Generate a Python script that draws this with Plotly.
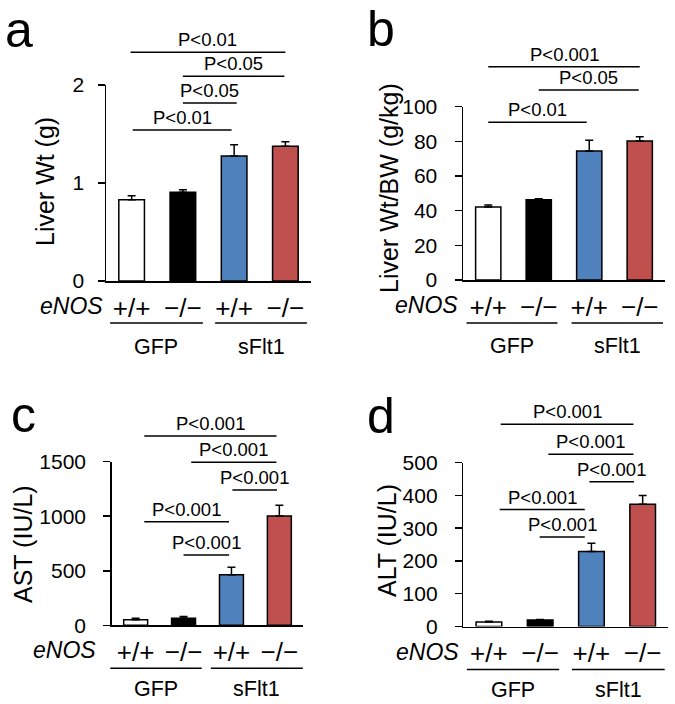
import plotly.graph_objects as go

W, H = 675, 704
FONT = "Liberation Sans, Arial, Helvetica, sans-serif"

# ---------------- data ----------------
genotype_labels = ["+/+", "−/−", "+/+", "−/−"]
group_labels = ["GFP", "sFlt1"]
bar_colors = ["#FFFFFF", "#000000", "#4F81BD", "#C0504D"]

liver_wt = [0.83, 0.905, 1.275, 1.375]
liver_wt_err = [0.04, 0.025, 0.115, 0.045]

liver_wt_bw = [42.1, 46.3, 74.4, 80.2]
liver_wt_bw_err = [1.2, 0.6, 6.2, 2.5]

ast = [52, 64, 464, 1002]
ast_err = [12, 16, 68, 98]

alt = [14, 20, 229, 373]
alt_err = [2, 1.5, 25, 27]

# comparisons: (from bar, to bar, height in data units, label)
sig_a = [(-0.02, 3.0, 2.333, "P<0.01"), (1.0, 2.98, 2.089, "P<0.05"),
         (1.0, 2.05, 1.816, "P<0.05"), (0.02, 1.95, 1.541, "P<0.01")]
sig_b = [(0.0, 3.0, 123.1, "P<0.001"), (1.0, 2.98, 109.6, "P<0.05"),
         (0.0, 1.95, 91.0, "P<0.01")]
sig_c = [(0.18, 2.94, 1735, "P<0.001"), (1.16, 2.94, 1494, "P<0.001"),
         (2.02, 2.95, 1240, "P<0.001"), (0.18, 1.95, 950, "P<0.001"),
         (1.0, 1.95, 644, "P<0.001")]
sig_d = [(0.23, 2.82, 617, "P<0.001"), (1.16, 2.82, 525.5, "P<0.001"),
         (1.96, 2.83, 441.8, "P<0.001"), (0.21, 1.87, 357, "P<0.001"),
         (0.99, 1.87, 273, "P<0.001")]

# ---------------- layout of panels (pixel geometry) ----------------
panels = [
    dict(letter="a", xa="x", ya="y", vals=liver_wt, errs=liver_wt_err, title="Liver Wt (g)",
         ymax=2, dtick=1, px=(106, 311), py=(281, 85), sig=sig_a, tstand=9,
         title_xy=(45, 182), letter_xy=(19, 30), enos_x=-0.52,
         groups=[(-0.42, 1.39), (1.63, 3.42)], gline=42, glabel=23.5),
    dict(letter="b", xa="x2", ya="y2", vals=liver_wt_bw, errs=liver_wt_bw_err, title="Liver Wt/BW (g/kg)",
         ymax=100, dtick=20, px=(463, 665), py=(280, 106.7), sig=sig_b, tstand=13,
         title_xy=(389, 188), letter_xy=(381, 29), enos_x=-0.55,
         groups=[(-0.43, 1.37), (1.65, 3.46)], gline=43, glabel=23.5),
    dict(letter="c", xa="x3", ya="y3", vals=ast, errs=ast_err, title="AST (IU/L)",
         ymax=1500, dtick=500, px=(111.7, 303.3), py=(625.3, 461.7), sig=sig_c, tstand=13,
         title_xy=(23, 544), letter_xy=(23, 415), enos_x=-0.78,
         groups=[(-0.53, 1.38), (1.57, 3.49)], gline=43, glabel=20.5),
    dict(letter="d", xa="x4", ya="y4", vals=alt, errs=alt_err, title="ALT (IU/L)",
         ymax=500, dtick=100, px=(463.3, 668.3), py=(626.5, 462.7), sig=sig_d, tstand=13,
         title_xy=(387, 541), letter_xy=(381, 416), enos_x=-0.55,
         groups=[(-0.43, 1.37), (1.62, 3.43)], gline=43, glabel=20),
]

fig = go.Figure()
shapes, annotations = [], []
LINE = dict(color="black", width=1.5)


def xdom(i):
    return (i + 0.5) / 4.0


for p in panels:
    fig.add_trace(go.Bar(
        x=[0, 1, 2, 3], y=p["vals"], width=0.5,
        marker=dict(color=bar_colors, line=dict(color="black", width=1.5)),
        error_y=dict(type="data", symmetric=False, array=p["errs"], arrayminus=[0, 0, 0, 0],
                     color="black", thickness=1.5, width=4),
        xaxis=p["xa"], yaxis=p["ya"], showlegend=False, hoverinfo="skip",
    ))
    plot_h = p["py"][0] - p["py"][1]
    xd = p["xa"] + " domain"
    yd = p["ya"] + " domain"
    suffix = p["xa"][1:]
    fig.layout["xaxis" + suffix] = dict(
        domain=[p["px"][0] / W, p["px"][1] / W], range=[-0.5, 3.5], anchor=p["ya"],
        showline=True, linecolor="black", linewidth=1.5, showgrid=False, zeroline=False,
        tickvals=[0, 1, 2, 3], ticktext=genotype_labels, ticks="", ticklabelstandoff=3,
        tickfont=dict(size=26, color="black", family=FONT), fixedrange=True, automargin=False,
    )
    fig.layout["yaxis" + suffix] = dict(
        domain=[1 - p["py"][0] / H, 1 - p["py"][1] / H], range=[0, p["ymax"]], anchor=p["xa"],
        showline=True, linecolor="black", linewidth=1.5, showgrid=False, zeroline=False,
        tickvals=list(range(0, p["ymax"] + 1, p["dtick"])), ticks="outside", ticklen=7,
        tickwidth=1.5, tickcolor="black", ticklabelstandoff=p["tstand"],
        tickfont=dict(size=21, color="black", family=FONT), fixedrange=True, automargin=False,
    )
    # significance bars
    for (i0, i1, yv, lab) in p["sig"]:
        shapes.append(dict(type="line", xref=xd, yref=yd, x0=xdom(i0), x1=xdom(i1),
                           y0=yv / p["ymax"], y1=yv / p["ymax"], line=LINE))
        annotations.append(dict(xref=xd, yref=yd, x=(xdom(i0) + xdom(i1)) / 2, y=yv / p["ymax"],
                                text=lab, showarrow=False, xanchor="center", yanchor="middle",
                                yshift=12.5, font=dict(size=18.5, color="black", family=FONT)))
    # group lines and labels
    for (g0, g1), gl in zip(p["groups"], group_labels):
        gy = -p["gline"] / plot_h
        shapes.append(dict(type="line", xref=xd, yref=yd, x0=xdom(g0), x1=xdom(g1),
                           y0=gy, y1=gy, line=LINE))
        annotations.append(dict(xref=xd, yref=yd, x=(xdom(g0) + xdom(g1)) / 2,
                                y=-(p["gline"] + p["glabel"]) / plot_h, text=gl, showarrow=False,
                                xanchor="center", yanchor="middle",
                                font=dict(size=21.5, color="black", family=FONT)))
    # eNOS label
    annotations.append(dict(xref=xd, yref=yd, x=xdom(p["enos_x"]), y=-25 / plot_h,
                            text="<i>eNOS</i>", showarrow=False, xanchor="right", yanchor="middle",
                            font=dict(size=23, color="black", family=FONT)))
    # y title
    annotations.append(dict(xref="paper", yref="paper", x=p["title_xy"][0] / W,
                            y=1 - p["title_xy"][1] / H, text=p["title"], textangle=-90,
                            showarrow=False, xanchor="center", yanchor="middle",
                            font=dict(size=25, color="black", family=FONT)))
    # panel letter
    annotations.append(dict(xref="paper", yref="paper", x=p["letter_xy"][0] / W,
                            y=1 - p["letter_xy"][1] / H, text=p["letter"], showarrow=False,
                            xanchor="center", yanchor="middle",
                            font=dict(size=50, color="black", family=FONT)))

fig.update_layout(
    template="none",
    width=W, height=H, margin=dict(l=0, r=0, t=0, b=0, autoexpand=False),
    paper_bgcolor="white", plot_bgcolor="white",
    shapes=shapes, annotations=annotations, bargap=0.5,
    font=dict(family=FONT, color="black"),
)

fig.write_html(
    "out.html",
    config={"displayModeBar": False, "staticPlot": True},
    post_script="document.body.style.margin='0';document.body.style.overflow='hidden';",
)
